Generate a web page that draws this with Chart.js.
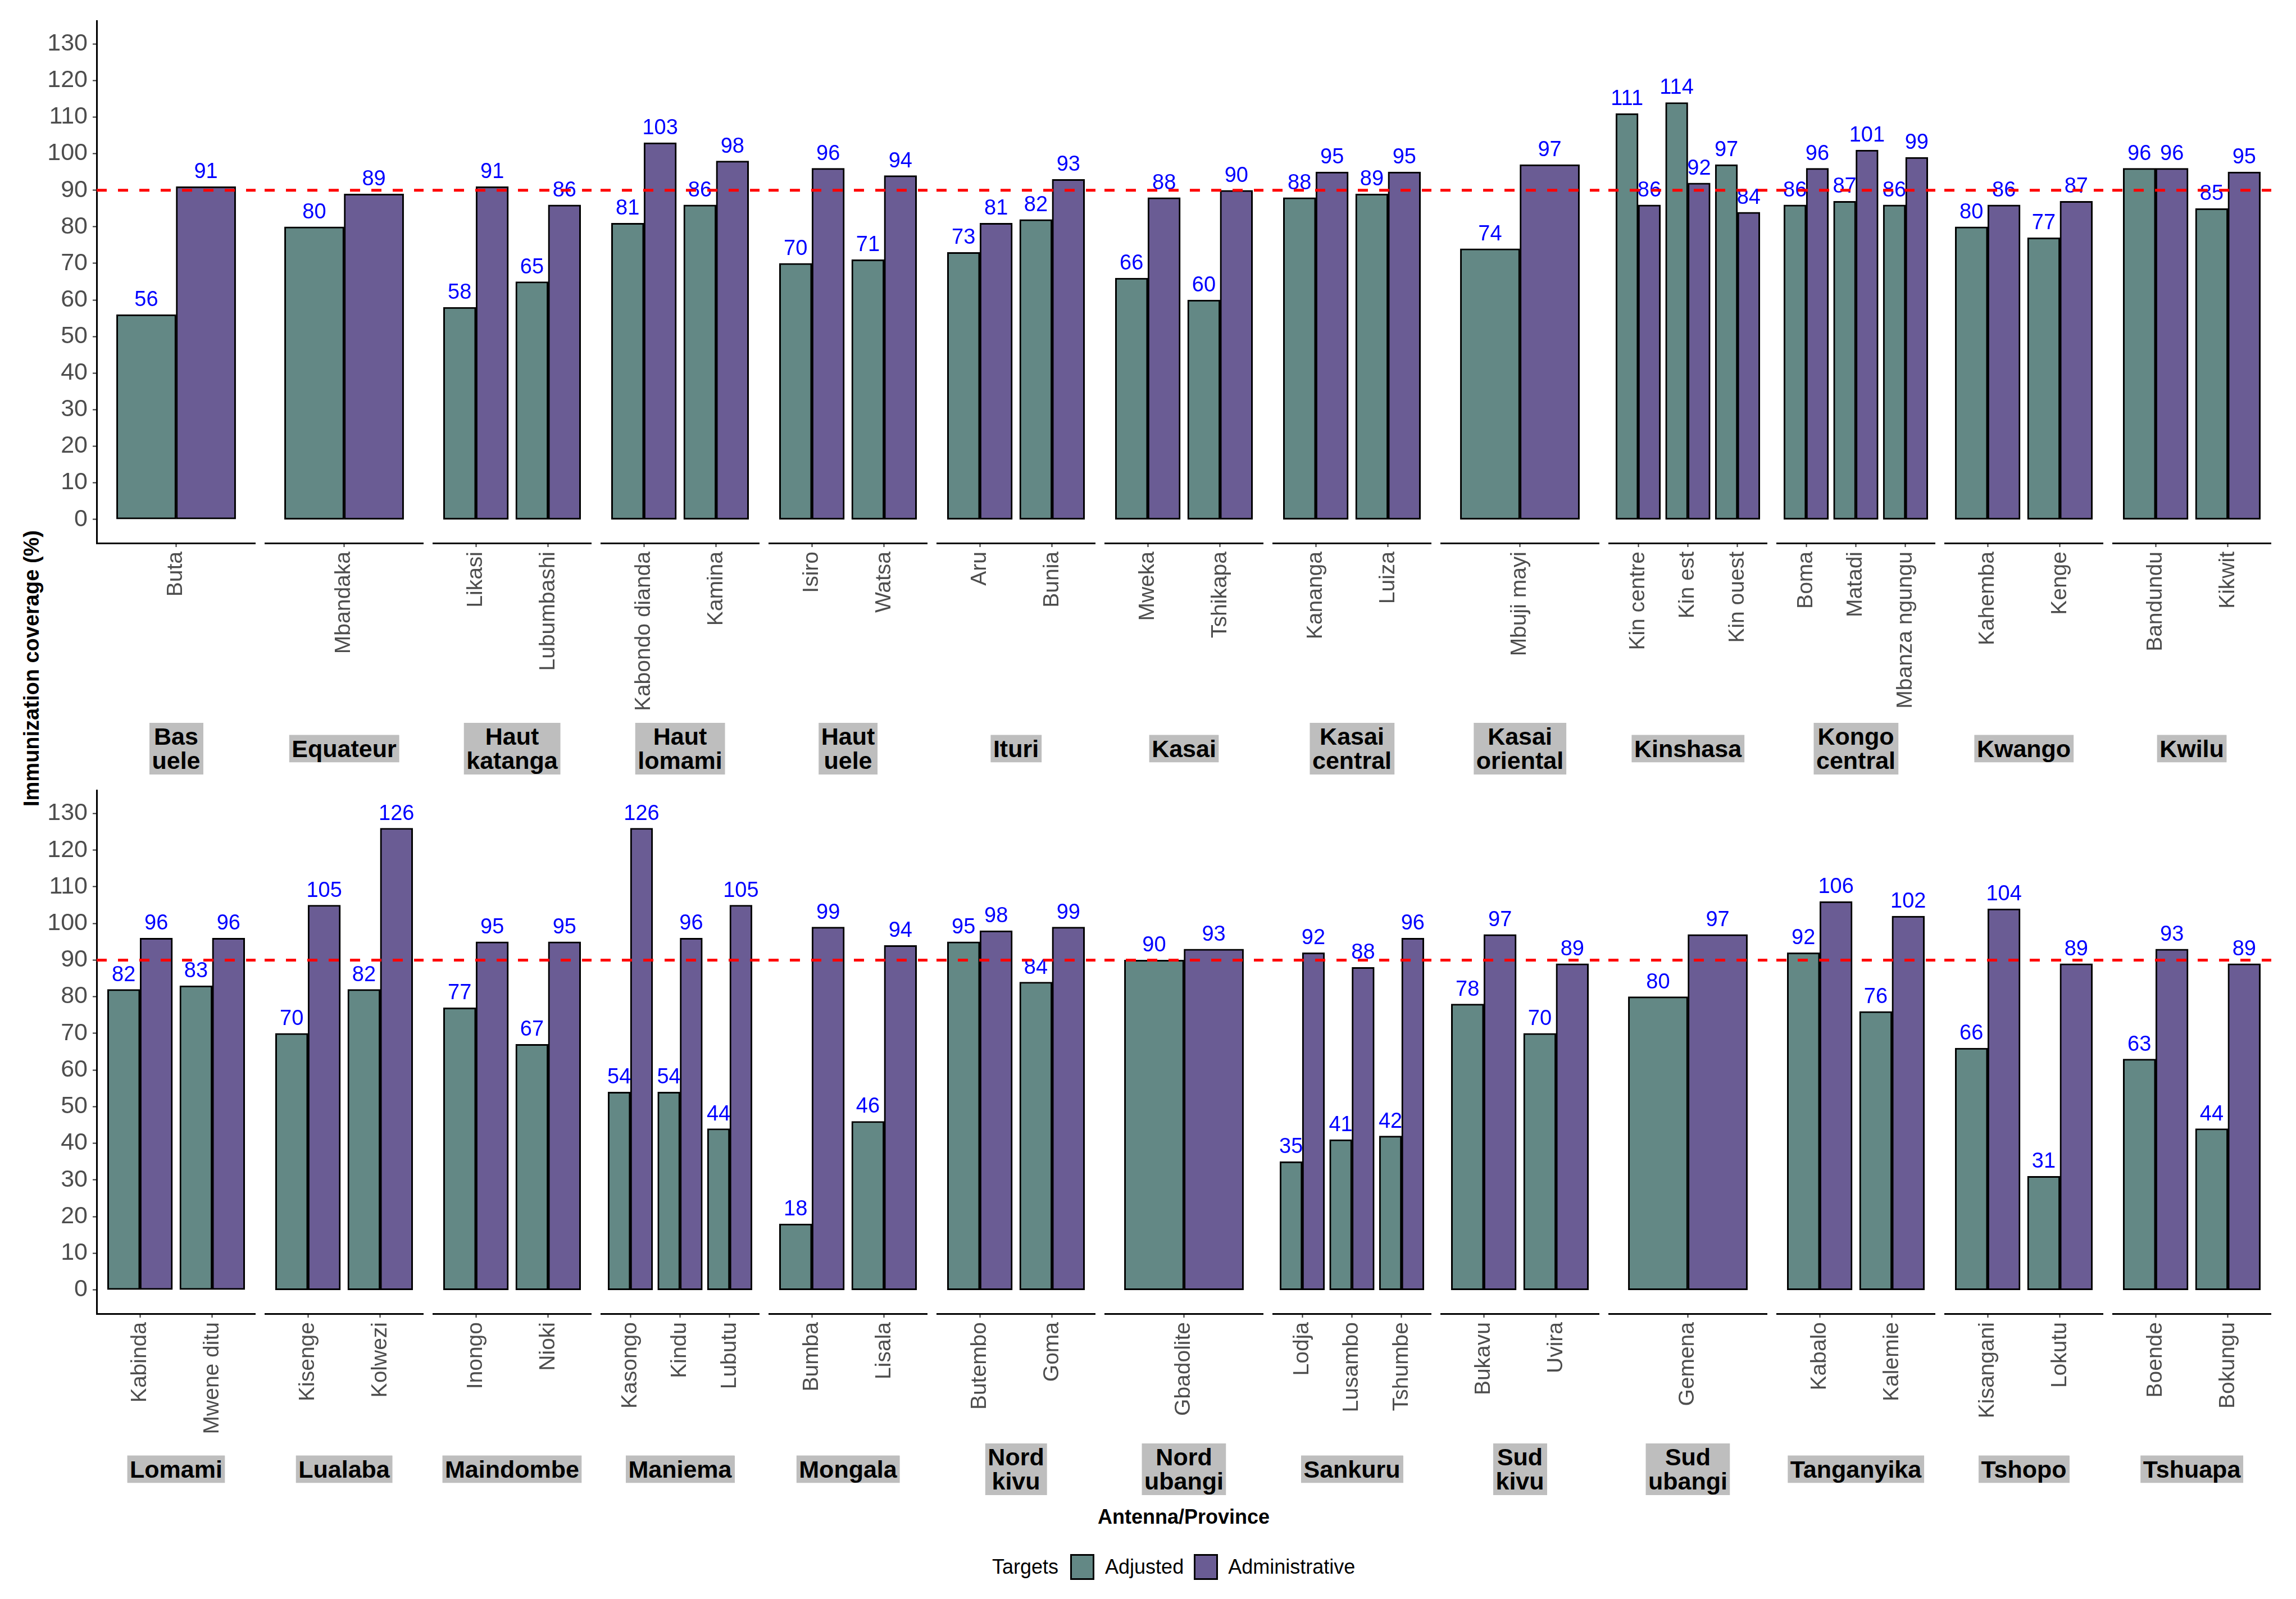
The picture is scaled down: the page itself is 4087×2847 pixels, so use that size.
<!DOCTYPE html>
<html>
<head>
<meta charset="utf-8">
<script src="https://cdn.jsdelivr.net/npm/chart.js@4/dist/chart.umd.min.js"></script>
<style>
  html, body { margin: 0; width: 4087px; height: 2847px; background: #fff; overflow: hidden; }
  body { position: relative; font-family: "Liberation Sans", Arial, sans-serif; }
  canvas { position: absolute; }
  .strip { position: absolute; transform: translate(-50%, -50%); background: #bebebe; color: #000;
           font-weight: bold; font-size: 43px; line-height: 43px; padding: 3px 5px; text-align: center; white-space: nowrap; }
  .ytitle { position: absolute; left: 56px; top: 1190px; transform: translate(-50%, -50%) rotate(-90deg);
            font-weight: bold; font-size: 38px; white-space: nowrap; }
  .xtitle { position: absolute; left: 2107px; top: 2701px; transform: translate(-50%, -50%);
            font-weight: bold; font-size: 36px; white-space: nowrap; }
  .legend { position: absolute; left: 1766px; top: 2767px; height: 46px; display: flex; align-items: center; font-size: 36px; }
  .legend .key { width: 43px; height: 46px; border: 3px solid #000; box-sizing: border-box; }
</style>
</head>
<body>
<div class="ytitle">Immunization coverage (%)</div>
<div class="xtitle">Antenna/Province</div>
<div class="legend">
  <span>Targets</span>
  <span class="key" style="margin-left:21px;background:#638885"></span>
  <span style="margin-left:19px">Adjusted</span>
  <span class="key" style="margin-left:18px;background:#6a5c94"></span>
  <span style="margin-left:18px">Administrative</span>
</div>
<script>
const provinces = [
  "Bas uele", "Equateur", "Haut katanga", "Haut lomami", "Haut uele", "Ituri", "Kasai",
  "Kasai central", "Kasai oriental", "Kinshasa", "Kongo central", "Kwango", "Kwilu",
  "Lomami", "Lualaba", "Maindombe", "Maniema", "Mongala", "Nord kivu", "Nord ubangi",
  "Sankuru", "Sud kivu", "Sud ubangi", "Tanganyika", "Tshopo", "Tshuapa"
];

const antennas = [
  ["Buta"], ["Mbandaka"], ["Likasi", "Lubumbashi"], ["Kabondo dianda", "Kamina"],
  ["Isiro", "Watsa"], ["Aru", "Bunia"], ["Mweka", "Tshikapa"], ["Kananga", "Luiza"],
  ["Mbuji mayi"], ["Kin centre", "Kin est", "Kin ouest"], ["Boma", "Matadi", "Mbanza ngungu"],
  ["Kahemba", "Kenge"], ["Bandundu", "Kikwit"],
  ["Kabinda", "Mwene ditu"], ["Kisenge", "Kolwezi"], ["Inongo", "Nioki"],
  ["Kasongo", "Kindu", "Lubutu"], ["Bumba", "Lisala"], ["Butembo", "Goma"], ["Gbadolite"],
  ["Lodja", "Lusambo", "Tshumbe"], ["Bukavu", "Uvira"], ["Gemena"], ["Kabalo", "Kalemie"],
  ["Kisangani", "Lokutu"], ["Boende", "Bokungu"]
];

const adjusted = [
  [56], [80], [58, 65], [81, 86], [70, 71], [73, 82], [66, 60], [88, 89], [74],
  [111, 114, 97], [86, 87, 86], [80, 77], [96, 85],
  [82, 83], [70, 82], [77, 67], [54, 54, 44], [18, 46], [95, 84], [90],
  [35, 41, 42], [78, 70], [80], [92, 76], [66, 31], [63, 44]
];

const administrative = [
  [91], [89], [91, 86], [103, 98], [96, 94], [81, 93], [88, 90], [95, 95], [97],
  [86, 92, 84], [96, 101, 99], [86, 87], [96, 95],
  [96, 96], [105, 126], [95, 95], [126, 96, 105], [99, 94], [98, 99], [93],
  [92, 88, 96], [97, 89], [97], [106, 102], [104, 89], [93, 89]
];

const yTicks = [0, 10, 20, 30, 40, 50, 60, 70, 80, 90, 100, 110, 120, 130];
const TARGET = 90;

// layout (pixels)
const FONT = "'Liberation Sans', Arial, sans-serif";
const PANELS_PER_ROW = 13;
const PANEL_X0 = 172, PANEL_W = 283, PANEL_STEP = 299;
const ROW_TOP = [36, 1406];
const CHART_H = [931, 933];
const X_AXIS_H = 380;
const STRIP_CY = [1333, 2616];

const COLOR_ADJ = "#638885";
const COLOR_ADM = "#6a5c94";

const valueLabels = {
  id: "valueLabels",
  afterDatasetsDraw(chart) {
    const ctx = chart.ctx;
    ctx.save();
    ctx.font = "38px " + FONT;
    ctx.fillStyle = "#0000ff";
    ctx.textAlign = "center";
    ctx.textBaseline = "alphabetic";
    chart.data.datasets.forEach((ds, di) => {
      chart.getDatasetMeta(di).data.forEach((bar, i) => {
        ctx.fillText(String(ds.data[i].y), bar.x, bar.y - 15);
      });
    });
    // target line
    const a = chart.chartArea;
    const y = chart.scales.y.getPixelForValue(TARGET);
    ctx.strokeStyle = "#ff0000";
    ctx.lineWidth = 5;
    ctx.setLineDash([18, 20]);
    ctx.beginPath();
    ctx.moveTo(a.left, y);
    ctx.lineTo(a.right, y);
    ctx.stroke();
    ctx.restore();
  }
};

function makePanel(idx) {
  const row = Math.floor(idx / PANELS_PER_ROW);
  const col = idx % PANELS_PER_ROW;
  const names = antennas[idx];
  const n = names.length;
  const first = col === 0;
  const panelLeft = PANEL_X0 + col * PANEL_STEP;

  const canvas = document.createElement("canvas");
  canvas.width = first ? PANEL_X0 + PANEL_W : PANEL_W;
  canvas.height = CHART_H[row] + X_AXIS_H;
  canvas.style.left = (first ? 0 : panelLeft) + "px";
  canvas.style.top = ROW_TOP[row] + "px";
  document.body.appendChild(canvas);

  // strip label under the panel
  const strip = document.createElement("div");
  strip.className = "strip";
  strip.innerHTML = provinces[idx].split(" ").join("<br>");
  strip.style.left = (panelLeft + PANEL_W / 2) + "px";
  strip.style.top = STRIP_CY[row] + "px";
  document.body.appendChild(strip);

  // ggplot-like discrete spacing: 0.6 expansion each side, bars fill 0.9 of a slot
  const barW = PANEL_W * 0.45 / (n + 0.2);

  new Chart(canvas, {
    type: "bar",
    data: {
      datasets: [
        {
          label: "Adjusted",
          data: adjusted[idx].map((v, i) => ({ x: i + 1, y: v })),
          backgroundColor: COLOR_ADJ
        },
        {
          label: "Administrative",
          data: administrative[idx].map((v, i) => ({ x: i + 1, y: v })),
          backgroundColor: COLOR_ADM
        }
      ]
    },
    options: {
      responsive: false,
      animation: false,
      devicePixelRatio: 1,
      layout: { padding: 0 },
      plugins: { legend: { display: false }, tooltip: { enabled: false } },
      datasets: {
        bar: { barThickness: barW, borderWidth: 3, borderColor: "#000", borderSkipped: false }
      },
      scales: {
        x: {
          type: "linear",
          min: 0.4,
          max: n + 0.6,
          offset: false,
          grid: { display: true, drawOnChartArea: false, offset: false, tickLength: 7, tickWidth: 2, tickColor: "#333" },
          border: { display: true, color: "#000", width: 3 },
          afterBuildTicks: (s) => { s.ticks = names.map((_, i) => ({ value: i + 1 })); },
          ticks: {
            autoSkip: false, minRotation: 90, maxRotation: 90, padding: 8,
            color: "#4d4d4d", font: { size: 39, family: FONT },
            callback: (v) => names[Math.round(v) - 1]
          },
          afterFit: (s) => { s.height = X_AXIS_H; s.paddingLeft = 0; s.paddingRight = 0; }
        },
        y: {
          min: -6.5,
          max: 136.5,
          display: first,
          grid: { drawOnChartArea: false, tickLength: 7, tickWidth: 2, tickColor: "#333" },
          border: { display: true, color: "#000", width: 3 },
          afterBuildTicks: (s) => { s.ticks = yTicks.map((v) => ({ value: v })); },
          ticks: { padding: 9, color: "#4d4d4d", font: { size: 43, family: FONT } },
          afterFit: (s) => { s.width = first ? PANEL_X0 : 0; s.paddingTop = 0; s.paddingBottom = 0; }
        }
      }
    },
    plugins: [valueLabels]
  });
}

provinces.forEach((_, i) => makePanel(i));
</script>
</body>
</html>
